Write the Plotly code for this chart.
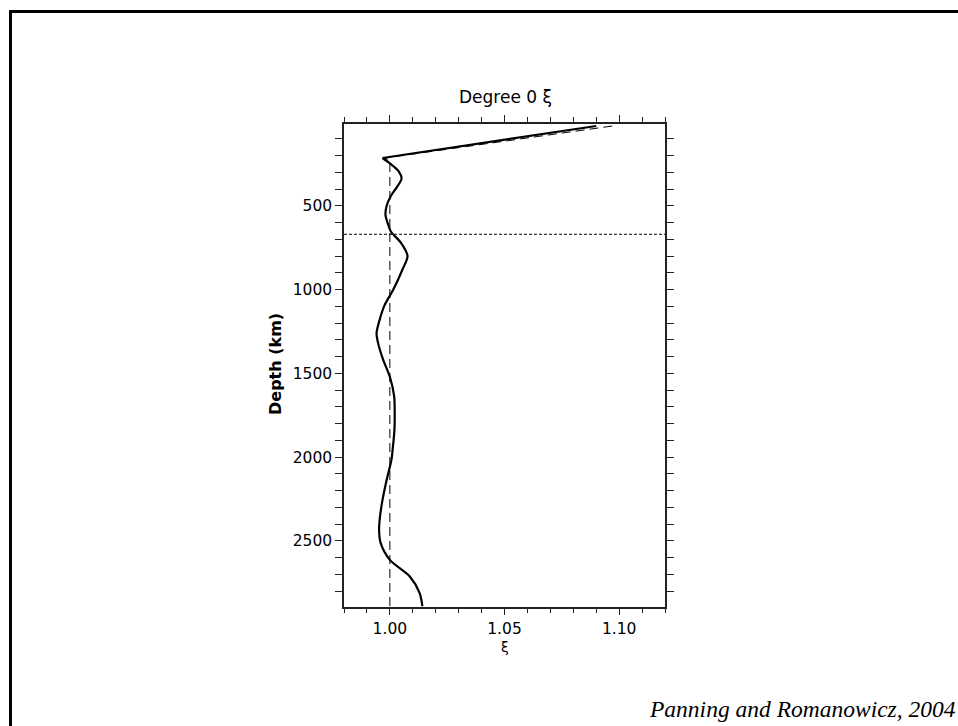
import plotly.graph_objects as go

# Degree-0 radial anisotropy model (xi) versus depth
depth_km = [24, 215, 250, 290, 337, 390, 440, 500, 555, 610, 655, 720, 800, 880,
            1003, 1090, 1182, 1260, 1321, 1420, 1520, 1639, 1718, 1837, 1957, 2016,
            2136, 2255, 2355, 2434, 2513, 2613, 2712, 2811, 2891]
xi = [1.090, 0.9968, 1.0003, 1.0036, 1.0051, 1.0030, 1.0005, 0.9986, 0.9981, 0.9992,
      1.0005, 1.0048, 1.0077, 1.0055, 1.0014, 0.9978, 0.9955, 0.9942, 0.9949, 0.9971,
      1.0000, 1.0019, 1.0021, 1.0020, 1.0012, 1.0007, 0.9986, 0.9968, 0.9957, 0.9953,
      0.9960, 1.0000, 1.0087, 1.0130, 1.0142]

# Reference model (anisotropic only in the uppermost mantle)
ref_depth = [24, 215, 228, 2891]
ref_xi = [1.097, 0.9978, 1.000, 1.000]

transition_depth = 670
x_range = [0.98, 1.12]
y_range = [2891, 12]
x_ticks = [1.00, 1.05, 1.10]
y_ticks = [500, 1000, 1500, 2000, 2500]

W, H = 958, 726
px = lambda v: v / W
py = lambda v: 1 - v / H

fig = go.Figure()

fig.add_trace(go.Scatter(x=ref_xi, y=ref_depth, mode="lines",
                         line=dict(color="black", width=1, dash="9px,5px"),
                         hoverinfo="skip"))
fig.add_trace(go.Scatter(x=[x_range[0], x_range[1]], y=[transition_depth, transition_depth],
                         mode="lines", line=dict(color="black", width=1, dash="3px,2px"),
                         hoverinfo="skip"))
# straight lithospheric segment down to the kink, then the smooth mantle profile
fig.add_trace(go.Scatter(x=xi[:2], y=depth_km[:2], mode="lines",
                         line=dict(color="black", width=2.2)))
fig.add_trace(go.Scatter(x=xi[1:], y=depth_km[1:], mode="lines",
                         line=dict(color="black", width=2.2, shape="spline", smoothing=0.8)))

tickfont = dict(family="DejaVu Sans", size=15.5, color="black")

fig.update_xaxes(
    range=x_range, domain=[px(344), px(665)],
    tickvals=x_ticks, tickformat=".2f", ticks="outside", ticklen=7, tickwidth=1.2,
    tickcolor="#222", minor=dict(dtick=0.01, tick0=1.0, ticks="outside", ticklen=5,
                                  tickwidth=1.2, tickcolor="#222"),
    showline=True, linecolor="#222", linewidth=1.5, mirror="allticks",
    showgrid=False, zeroline=False, tickfont=tickfont,
)
fig.update_yaxes(
    range=y_range, domain=[py(606.5), py(124)],
    tickvals=y_ticks, ticks="outside", ticklen=7, tickwidth=1.2, tickcolor="#222",
    minor=dict(dtick=100, tick0=0, ticks="outside", ticklen=7, tickwidth=1.2,
               tickcolor="#222"),
    showline=True, linecolor="#222", linewidth=1.5, mirror="allticks",
    showgrid=False, zeroline=False, tickfont=tickfont,
)

annotations = [
    dict(text="Degree 0 \u03be", x=px(505), y=py(97), xref="paper", yref="paper",
         xanchor="center", yanchor="middle", showarrow=False,
         font=dict(family="DejaVu Sans", size=17, color="black")),
    dict(text="\u03be", x=px(505), y=py(647), xref="paper", yref="paper",
         xanchor="center", yanchor="middle", showarrow=False,
         font=dict(family="DejaVu Sans", size=14, color="black")),
    dict(text="<b>Depth (km)</b>", x=px(276), y=py(364), xref="paper", yref="paper",
         xanchor="center", yanchor="middle", showarrow=False, textangle=-90,
         font=dict(family="DejaVu Sans", size=16, color="black")),
    dict(text="<i>Panning and Romanowicz, 2004</i>", x=px(957.5), y=py(709),
         xref="paper", yref="paper", xanchor="right", yanchor="middle", showarrow=False,
         font=dict(family="Liberation Serif", size=23.5, color="black")),
]

shapes = [
    dict(type="line", xref="paper", yref="paper", x0=px(9), x1=1.01,
         y0=py(11.5), y1=py(11.5), line=dict(color="black", width=3)),
    dict(type="line", xref="paper", yref="paper", x0=px(10.5), x1=px(10.5),
         y0=py(10), y1=-0.01, line=dict(color="black", width=3)),
]

fig.update_layout(
    width=W, height=H, margin=dict(l=0, r=0, t=0, b=0),
    paper_bgcolor="white", plot_bgcolor="white", showlegend=False,
    annotations=annotations, shapes=shapes,
)

fig.write_html("out.html")
